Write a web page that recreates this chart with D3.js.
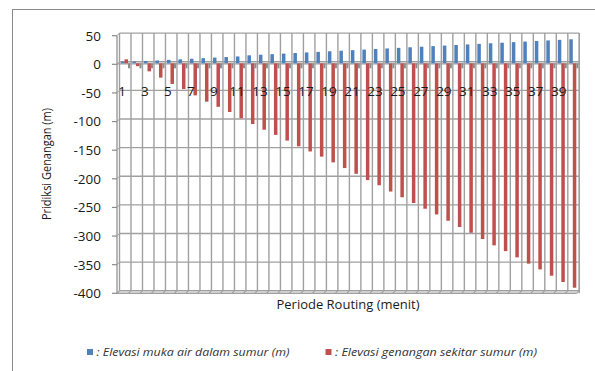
<!DOCTYPE html>
<html><head><meta charset="utf-8">
<script src="https://cdn.jsdelivr.net/npm/d3@7/dist/d3.min.js"></script>
<style>body{margin:0;background:#fff}svg{display:block}</style>
</head><body><svg id="c" width="595" height="371"></svg>
<script>
const categories = ["1","2","3","4","5","6","7","8","9","10","11","12","13","14","15","16","17","18","19","20",
  "21","22","23","24","25","26","27","28","29","30","31","32","33","34","35","36","37","38","39","40"];
const blueValues = [3,3,4,5,6,7,8,9,10,11,12,14,15,16,17,18,19,20,21,22,
  23,24,25,26,27,28,29,30,31,32,33,34,35,36,37,38,39,40,41,42];
const redValues = [7,-5,-14,-25,-36,-45,-56,-67,-76,-85,-96,-106,-116,-125,-135,-145,-154,-163,-173,-183,
  -193,-204,-213,-224,-234,-244,-254,-264,-275,-286,-296,-307,-318,-328,-339,-350,-360,-371,-382,-392];
const yTicks = [50,0,-50,-100,-150,-200,-250,-300,-350,-400];
const xTickLabels = ["1","3","5","7","9","11","13","15","17","19","21","23","25","27","29","31","33","35","37","39"];
const seriesNames = [": Elevasi muka air dalam sumur (m)", ": Elevasi genangan sekitar sumur (m)"];
const seriesKeys = ["blue","red"];
const colors = ["#4F81BD","#C0504D"];
const xTitle = "Periode Routing (menit)";
const yTitle = "Pridiksi Genangan (m)";

const svg = d3.select("#c");
const font = "'Open Sans', 'DejaVu Sans', sans-serif";
const grid = "#a0a0a0";

// outer chart border
svg.append("rect").attr("x",12.5).attr("y",9.5).attr("width",640).attr("height",420)
  .attr("fill","none").attr("stroke","#8a8a8a").attr("stroke-width",1);

const y = d3.scaleLinear().domain([-400,50]).range([293.3,35.7]);
const x = d3.scaleBand().domain(categories).range([119.5,579.3]).padding(0);
const xs = d3.scaleBand().domain(seriesKeys).range([1.5,8.5]).padding(0);
const D = 2.6; // 3D depth offset
const xEnd = x.range()[1];
const bounds = categories.map(c => x(c)).concat([xEnd]);

const g = svg.append("g");
// back wall horizontal gridlines
g.selectAll("line.h").data(yTicks).join("line")
  .attr("x1",x.range()[0]).attr("x2",xEnd)
  .attr("y1",d=>y(d)-D).attr("y2",d=>y(d)-D)
  .attr("stroke",grid).attr("stroke-width",1.4);
// back wall vertical gridlines
g.selectAll("line.v").data(bounds).join("line")
  .attr("x1",d=>d).attr("x2",d=>d)
  .attr("y1",y(50)-D).attr("y2",y(-400)-D)
  .attr("stroke",grid).attr("stroke-width",1.4);
// floor
g.append("line").attr("x1",117).attr("x2",xEnd-D).attr("y1",y(-400)).attr("y2",y(-400))
  .attr("stroke",grid).attr("stroke-width",1.4);
g.selectAll("line.f").data(bounds).join("line")
  .attr("x1",d=>d).attr("x2",d=>d-D)
  .attr("y1",y(-400)-D).attr("y2",y(-400))
  .attr("stroke",grid).attr("stroke-width",1.2);
// right side of wall down to floor
g.append("line").attr("x1",xEnd).attr("x2",xEnd).attr("y1",y(50)-D).attr("y2",y(-400))
  .attr("stroke",grid).attr("stroke-width",1.4);
// zero plane line
g.append("line").attr("x1",117).attr("x2",xEnd).attr("y1",y(0)-0.5).attr("y2",y(0)-0.5)
  .attr("stroke",grid).attr("stroke-width",1.2);

// y axis
const ax = svg.append("g");
ax.append("line").attr("x1",117).attr("x2",117).attr("y1",y(50)).attr("y2",y(-400))
  .attr("stroke","#8a8a8a").attr("stroke-width",1.2);
ax.selectAll("line.t").data(yTicks).join("line")
  .attr("x1",112).attr("x2",117).attr("y1",d=>y(d)).attr("y2",d=>y(d))
  .attr("stroke","#8a8a8a").attr("stroke-width",1.2);
ax.selectAll("line.d").data(yTicks).join("line")
  .attr("x1",117).attr("x2",x.range()[0]).attr("y1",d=>y(d)).attr("y2",d=>y(d)-D)
  .attr("stroke",grid).attr("stroke-width",1);
ax.selectAll("text").data(yTicks).join("text")
  .attr("x",101).attr("y",d=>y(d)).attr("dy","0.36em")
  .attr("text-anchor","end").attr("font-family",font).attr("font-size",13.5).attr("fill","#1a1a1a")
  .text(d=>d);

// bars
const base = y(0)-1;
const barData = categories.map((c,i)=>({c, blue: blueValues[i], red: redValues[i]}));
seriesKeys.forEach((k,si)=>{
  svg.append("g").selectAll("rect").data(barData).join("rect")
    .attr("x",d=>x(d.c)+xs(k)).attr("width",xs.bandwidth())
    .attr("y",d=>Math.min(y(d[k])-1,base)).attr("height",d=>Math.abs(y(d[k])-1-base))
    .attr("fill",colors[si]);
});
// gray stubs beside red bars at zero plane
svg.append("g").selectAll("rect").data(barData).join("rect")
  .attr("x",d=>x(d.c)+xs("red")+xs.bandwidth()).attr("width",2)
  .attr("y",base).attr("height",5).attr("fill","#8c8c8c");

// category labels
svg.append("g").selectAll("text").data(xTickLabels).join("text")
  .attr("x",d=>x(d)+2.5).attr("y",96).attr("text-anchor","middle")
  .attr("font-family",font).attr("font-size",13.5).attr("fill","#1a1a1a").text(d=>d);

// axis titles
svg.append("text").attr("x",348).attr("y",309).attr("text-anchor","middle")
  .attr("font-family",font).attr("font-size",12).attr("fill","#1a1a1a")
  .attr("textLength",143).attr("lengthAdjust","spacingAndGlyphs").text(xTitle);
svg.append("text").attr("transform","translate(51,164) rotate(-90)").attr("text-anchor","middle")
  .attr("font-family",font).attr("font-size",12).attr("fill","#1a1a1a")
  .attr("textLength",112).attr("lengthAdjust","spacingAndGlyphs").text(yTitle);

// legend
const legX = [87, 325.5], legW = [193, 202];
seriesNames.forEach((n,i)=>{
  svg.append("rect").attr("x",legX[i]).attr("y",349).attr("width",6).attr("height",6).attr("fill",colors[i]);
  svg.append("text").attr("x",legX[i]+9.5).attr("y",356).attr("font-family",font).attr("font-size",10.5)
    .attr("font-style","italic").attr("fill","#333")
    .attr("textLength",legW[i]).attr("lengthAdjust","spacingAndGlyphs").text(n);
});
</script></body></html>
